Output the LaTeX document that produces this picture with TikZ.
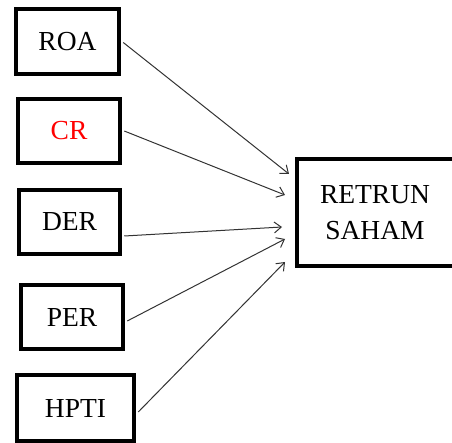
\documentclass[tikz,border=0pt]{standalone}
\usepackage{fontspec}
\setmainfont{Liberation Serif}
\usetikzlibrary{arrows.meta}
\begin{document}
\begin{tikzpicture}[x=1pt,y=-1pt,
  varbox/.style={draw=black,line width=4.5pt,inner sep=0pt,font=\fontsize{27.5}{36}\selectfont,align=center},
  link/.style={draw=black!80,line width=1pt,-{Straight Barb[length=7pt,width=11pt,line width=1pt]}}]
\useasboundingbox (0,0) rectangle (452,443);
\node[varbox,minimum width=103pt,minimum height=65pt] (roa) at (67.5,41.5) {ROA};
\node[varbox,minimum width=102pt,minimum height=64pt,text=red] (cr) at (69,131) {CR};
\node[varbox,minimum width=101pt,minimum height=64pt] (der) at (69.5,222) {DER};
\node[varbox,minimum width=102pt,minimum height=64pt] (per) at (72,317) {PER};
\node[varbox,minimum width=117pt,minimum height=66pt] (hpti) at (75.5,408) {HPTI};
\node[varbox,draw=none] (ret) at (375,212.5) {RETRUN\\SAHAM};
\draw[line width=4.5pt] (297,159) rectangle (475,266);
\coordinate (t1) at (289,174);
\coordinate (t2) at (285,195);
\coordinate (t3) at (282,227);
\coordinate (t4) at (285,239);
\coordinate (t5) at (285,262);
\draw[link] (roa.east) ++(2,1) -- (t1);
\draw[link] (cr.east) ++(2,0) -- (t2);
\draw[link] ([yshift=-14pt]der.east) ++(2,0) -- (t3);
\draw[link] ([yshift=-4pt]per.east) ++(2,0) -- (t4);
\draw[link] ([yshift=-4pt]hpti.east) ++(2,0) -- (t5);
\end{tikzpicture}
\end{document}
